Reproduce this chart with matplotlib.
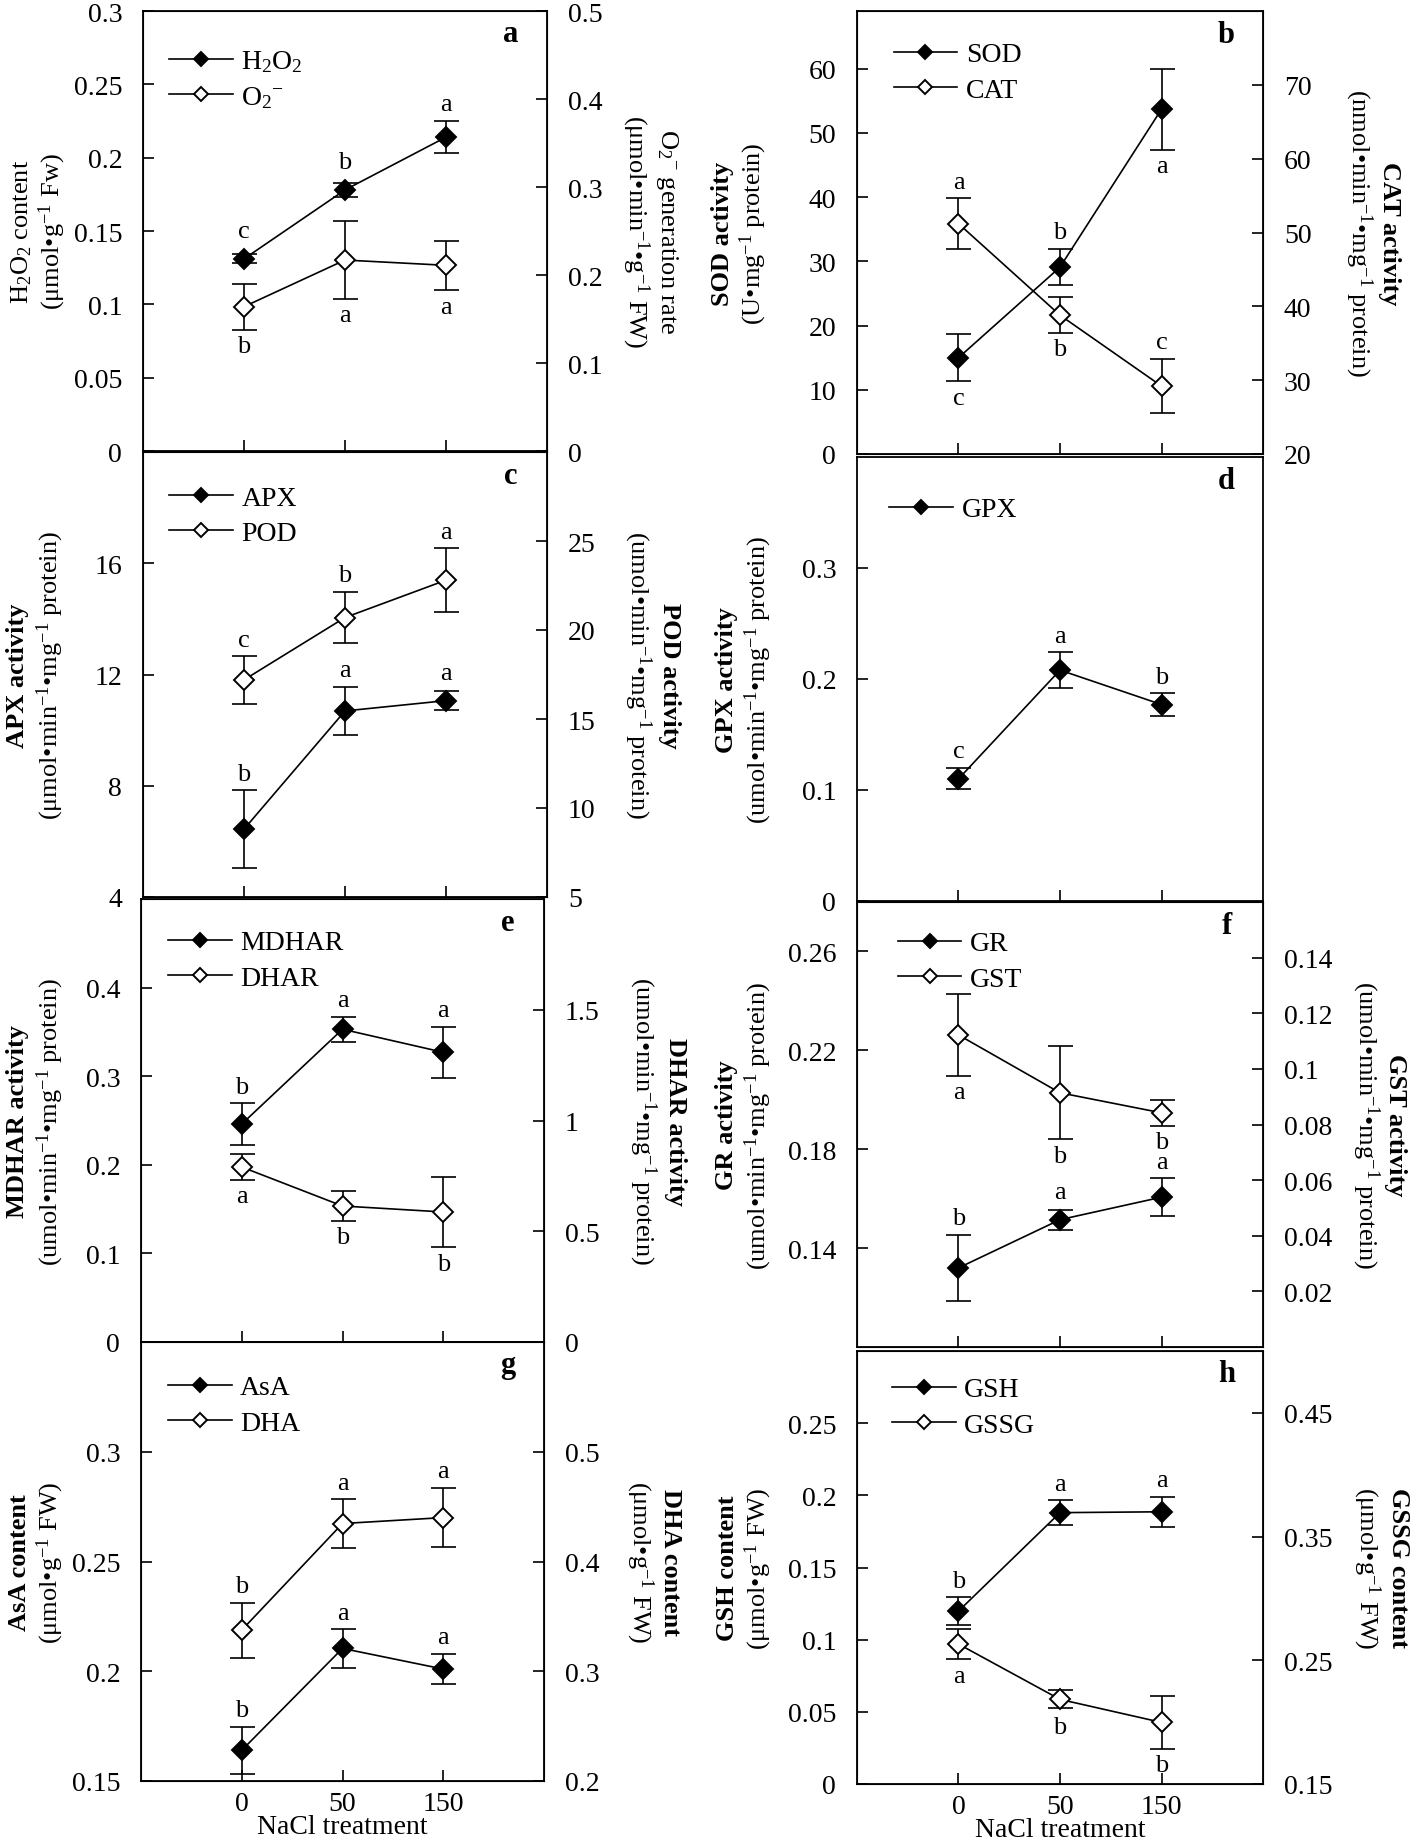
import matplotlib.pyplot as plt
from matplotlib.ticker import FuncFormatter

plt.rcParams['font.family'] = ['Liberation Serif', 'DejaVu Serif']
plt.rcParams['mathtext.fontset'] = 'custom'
plt.rcParams['mathtext.rm'] = 'Liberation Serif'
plt.rcParams['mathtext.it'] = 'Liberation Serif:italic'
plt.rcParams['mathtext.bf'] = 'Liberation Serif:bold'

# treatments
x = [1, 2, 3]
nacl = ['0', '50', '150']

# a
h2o2 = [0.131, 0.178, 0.214]
h2o2_err = [0.003, 0.005, 0.011]
h2o2_sig = ['c', 'b', 'a']
o2 = [0.164, 0.217, 0.211]
o2_err = [0.026, 0.044, 0.028]
o2_sig = ['b', 'a', 'a']
# b
sod = [15.0, 29.1, 53.7]
sod_err = [3.7, 2.85, 6.3]
sod_sig = ['c', 'b', 'a']
cat = [51.2, 38.8, 29.2]
cat_err = [3.45, 2.4, 3.7]
cat_sig = ['a', 'b', 'c']
# c
apx = [6.44, 10.69, 11.06]
apx_err = [1.39, 0.87, 0.34]
apx_sig = ['b', 'a', 'a']
pod = [17.2, 20.7, 22.8]
pod_err = [1.33, 1.45, 1.8]
pod_sig = ['c', 'b', 'a']
# d
gpx = [0.110, 0.208, 0.177]
gpx_err = [0.0095, 0.016, 0.010]
gpx_sig = ['c', 'a', 'b']
# e
mdhar = [0.246, 0.353, 0.327]
mdhar_err = [0.0235, 0.014, 0.029]
mdhar_sig = ['b', 'a', 'a']
dhar = [0.79, 0.614, 0.587]
dhar_err = [0.057, 0.066, 0.16]
dhar_sig = ['a', 'b', 'b']
# f
gr = [0.132, 0.1515, 0.1606]
gr_err = [0.0133, 0.004, 0.0076]
gr_sig = ['b', 'a', 'a']
gst = [0.1122, 0.0914, 0.0842]
gst_err = [0.0147, 0.0167, 0.0046]
gst_sig = ['a', 'b', 'b']
# g
asa = [0.164, 0.2104, 0.201]
asa_err = [0.0107, 0.0087, 0.0069]
asa_sig = ['b', 'a', 'a']
dha = [0.3375, 0.4346, 0.44]
dha_err = [0.025, 0.022, 0.027]
dha_sig = ['b', 'a', 'a']
# h
gsh = [0.1198, 0.188, 0.1886]
gsh_err = [0.0097, 0.0085, 0.0103]
gsh_sig = ['b', 'a', 'a']
gssg = [0.2631, 0.2184, 0.1998]
gssg_err = [0.0122, 0.0073, 0.0212]
gssg_sig = ['a', 'b', 'b']

W, H = 1418, 1849
fig = plt.figure(figsize=(W / 100, H / 100), dpi=100)
fmt = FuncFormatter(lambda v, p: f'{v:g}')
FS = 20
LFS = 19


def rect(l, t, r, b):
    return [l / W, 1 - b / H, (r - l) / W, (b - t) / H]


def style(ax, ylim, yticks, side):
    ax.set_ylim(ylim)
    ax.set_yticks(yticks)
    ax.yaxis.set_major_formatter(fmt)
    ax.tick_params(axis='y', direction='in', length=8, width=1.2, labelsize=FS, pad=15)
    if side == 'left':
        ax.tick_params(axis='y', left=True, right=False)
    else:
        ax.tick_params(axis='y', left=False, right=True, labelleft=False, labelright=True)


def panel(box, ylim, yticks, letter, bottom=False):
    ax = fig.add_axes(rect(*box))
    ax.set_xlim(0, 4)
    ax.set_xticks(x)
    ax.tick_params(axis='x', direction='in', length=8, width=1.2, labelsize=FS, pad=7, top=False)
    if bottom:
        ax.set_xticklabels(nacl)
        ax.set_xlabel('NaCl treatment', fontsize=FS, labelpad=-1)
    else:
        ax.tick_params(axis='x', labelbottom=False)
    style(ax, ylim, yticks, 'left')
    for s in ax.spines.values():
        s.set_linewidth(1.3)
    ax.text(0.91, 0.948, letter, transform=ax.transAxes, fontsize=22,
            fontweight='bold', ha='center', va='center')
    return ax


def draw(ax, y, err, sig, pos, filled, label):
    ax.errorbar(x, y, yerr=err, fmt='none', ecolor='black', elinewidth=1.2,
                capsize=9, capthick=1.2, zorder=2)
    line, = ax.plot(x, y, color='black', lw=1.2, marker='D', ms=10,
                    mfc='black' if filled else 'white', mec='black', mew=1.4,
                    label=label, zorder=3)
    lo, hi = ax.get_ylim()
    h_pts = ax.get_position().height * fig.get_figheight() * 72
    for xi, yi, ei, s, p in zip(x, y, err, sig, pos):
        off = max(ei * h_pts / (hi - lo), 8) + 4
        if p == 'a':
            ax.annotate(s, (xi, yi), xytext=(0, off), textcoords='offset points',
                        ha='center', va='bottom', fontsize=19)
        else:
            ax.annotate(s, (xi, yi), xytext=(0, -off), textcoords='offset points',
                        ha='center', va='top', fontsize=19)
    return line


def labels(ax, left, right, lx, rx, bold=True):
    w = 'bold' if bold else 'normal'
    x0, x1 = ax.get_position().x0 * W, ax.get_position().x1 * W
    span = x1 - x0
    ax.text((lx[0] - x0) / span, 0.5, left[0], transform=ax.transAxes, rotation=90,
            ha='center', va='center', fontsize=LFS, fontweight=w)
    ax.text((lx[1] - x0) / span, 0.5, left[1], transform=ax.transAxes, rotation=90,
            ha='center', va='center', fontsize=LFS)
    if right:
        ax.text((rx[0] - x0) / span, 0.5, right[0], transform=ax.transAxes, rotation=270,
                ha='center', va='center', fontsize=LFS, fontweight=w)
        ax.text((rx[1] - x0) / span, 0.5, right[1], transform=ax.transAxes, rotation=270,
                ha='center', va='center', fontsize=LFS)


def legend(ax, handles, xa, ya):
    ax.legend(handles=handles, loc='upper left', bbox_to_anchor=(xa, ya), frameon=False,
              fontsize=FS, handlelength=2.3, handletextpad=0.3, labelspacing=0.35,
              borderpad=0, borderaxespad=0, markerscale=0.75)


unit = '(umol•min$^{-1}$•mg$^{-1}$ protein)'

# a
ax = panel((143, 12, 547, 452), (0, 0.3), [0, 0.05, 0.1, 0.15, 0.2, 0.25, 0.3], 'a')
ax2 = ax.twinx()
style(ax2, (0, 0.5), [0, 0.1, 0.2, 0.3, 0.4, 0.5], 'right')
l1 = draw(ax, h2o2, h2o2_err, h2o2_sig, 'aaa', True, 'H$_2$O$_2$')
l2 = draw(ax2, o2, o2_err, o2_sig, 'bbb', False, 'O$_2$$^{-}$')
legend(ax2, [l1, l2], 0.065, 0.915)
labels(ax, ['H$_2$O$_2$ content', '(μmol•g$^{-1}$ Fw)'],
       ['O$_2$$^{-}$ generation rate', '(μmol•min$^{-1}$•g$^{-1}$ FW)'],
       (22, 52), (667, 636), bold=False)

# b
ax = panel((857, 12, 1263, 455), (0, 69), [0, 10, 20, 30, 40, 50, 60], 'b')
ax2 = ax.twinx()
style(ax2, (20, 80), [20, 30, 40, 50, 60, 70], 'right')
l1 = draw(ax, sod, sod_err, sod_sig, 'bab', True, 'SOD')
l2 = draw(ax2, cat, cat_err, cat_sig, 'aba', False, 'CAT')
legend(ax2, [l1, l2], 0.09, 0.93)
labels(ax, ['SOD activity', '(U•mg$^{-1}$ protein)'],
       ['CAT activity', '(nmol•min$^{-1}$•mg$^{-1}$ protein)'], (722, 753), (1390, 1359))

# c
ax = panel((143, 453, 547, 898), (4, 20), [4, 8, 12, 16], 'c')
ax2 = ax.twinx()
style(ax2, (5, 30), [5, 10, 15, 20, 25], 'right')
l1 = draw(ax, apx, apx_err, apx_sig, 'aaa', True, 'APX')
l2 = draw(ax2, pod, pod_err, pod_sig, 'aaa', False, 'POD')
legend(ax2, [l1, l2], 0.065, 0.925)
labels(ax, ['APX activity', '(μmol•min$^{-1}$•mg$^{-1}$ protein)'],
       ['POD activity', unit], (18, 50), (669, 638))

# d
ax = panel((857, 458, 1263, 902), (0, 0.4), [0, 0.1, 0.2, 0.3], 'd')
l1 = draw(ax, gpx, gpx_err, gpx_sig, 'aaa', True, 'GPX')
legend(ax, [l1], 0.08, 0.91)
labels(ax, ['GPX activity', unit], None, (727, 758), None)

# e
ax = panel((141, 900, 544, 1343), (0, 0.5), [0, 0.1, 0.2, 0.3, 0.4], 'e')
ax2 = ax.twinx()
style(ax2, (0, 2), [0, 0.5, 1, 1.5], 'right')
l1 = draw(ax, mdhar, mdhar_err, mdhar_sig, 'aaa', True, 'MDHAR')
l2 = draw(ax2, dhar, dhar_err, dhar_sig, 'bbb', False, 'DHAR')
legend(ax2, [l1, l2], 0.067, 0.93)
labels(ax, ['MDHAR activity', unit], ['DHAR activity', unit], (18, 50), (676, 643))

# f
ax = panel((857, 903, 1263, 1348), (0.10, 0.28), [0.14, 0.18, 0.22, 0.26], 'f')
ax2 = ax.twinx()
style(ax2, (0, 0.16), [0.02, 0.04, 0.06, 0.08, 0.1, 0.12, 0.14], 'right')
l1 = draw(ax, gr, gr_err, gr_sig, 'aaa', True, 'GR')
l2 = draw(ax2, gst, gst_err, gst_sig, 'bbb', False, 'GST')
legend(ax2, [l1, l2], 0.1, 0.935)
labels(ax, ['GR activity', unit], ['GST activity', unit], (727, 758), (1395, 1366))

# g
ax = panel((141, 1343, 544, 1782), (0.15, 0.35), [0.15, 0.2, 0.25, 0.3], 'g', bottom=True)
ax2 = ax.twinx()
style(ax2, (0.2, 0.6), [0.2, 0.3, 0.4, 0.5], 'right')
l1 = draw(ax, asa, asa_err, asa_sig, 'aaa', True, 'AsA')
l2 = draw(ax2, dha, dha_err, dha_sig, 'aaa', False, 'DHA')
legend(ax2, [l1, l2], 0.067, 0.925)
labels(ax, ['AsA content', '(μmol•g$^{-1}$ FW)'], ['DHA content', '(μmol•g$^{-1}$ FW)'],
       (20, 50), (670, 640))

# h
ax = panel((857, 1352, 1263, 1785), (0, 0.3), [0, 0.05, 0.1, 0.15, 0.2, 0.25], 'h', bottom=True)
ax2 = ax.twinx()
style(ax2, (0.15, 0.5), [0.15, 0.25, 0.35, 0.45], 'right')
l1 = draw(ax, gsh, gsh_err, gsh_sig, 'aaa', True, 'GSH')
l2 = draw(ax2, gssg, gssg_err, gssg_sig, 'bbb', False, 'GSSG')
legend(ax2, [l1, l2], 0.086, 0.94)
labels(ax, ['GSH content', '(μmol•g$^{-1}$ FW)'], ['GSSG content', '(μmol•g$^{-1}$ FW)'],
       (728, 758), (1398, 1367))

fig.savefig('out.png', dpi=100)
